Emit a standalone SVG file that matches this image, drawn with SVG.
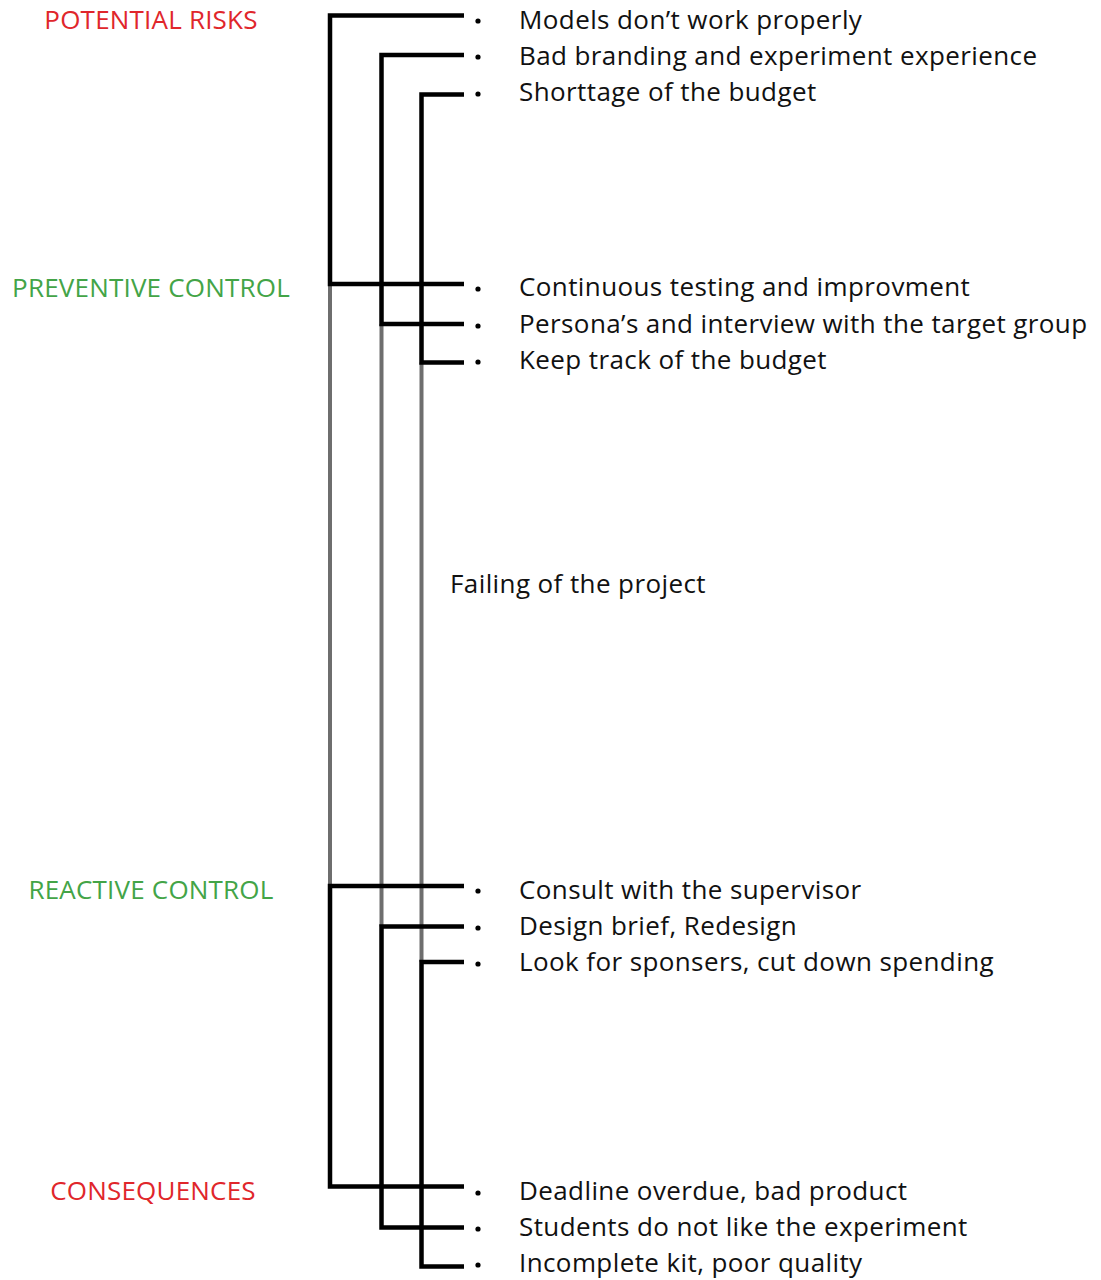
<svg xmlns="http://www.w3.org/2000/svg" width="1101" height="1280" viewBox="0 0 1101 1280">
<style>
.t{font-family:"Open Sans","Noto Sans",sans-serif;font-size:26px;letter-spacing:0.4px;fill:#111}
.h{font-family:"Open Sans","Noto Sans",sans-serif;font-size:26px;letter-spacing:0.2px;text-anchor:middle}
.red{fill:#e0262b}
.green{fill:#43a447}
.b{fill:none;stroke:#000;stroke-width:4.5}
.g{fill:none;stroke:#6e6e6e;stroke-width:4}
.d{fill:#000}
</style>
<rect width="1101" height="1280" fill="#fff"/>
<g id="connectors">
<line class="g" x1="330" y1="284" x2="330" y2="886"/>
<line class="g" x1="381.5" y1="324" x2="381.5" y2="926.5"/>
<line class="g" x1="421.5" y1="362.5" x2="421.5" y2="962"/>
<polyline class="b" points="464,15.5 330,15.5 330,284 464,284"/>
<polyline class="b" points="464,55 381.5,55 381.5,324 464,324"/>
<polyline class="b" points="464,94.5 421.5,94.5 421.5,362.5 464,362.5"/>
<polyline class="b" points="464,886 330,886 330,1186.5 464,1186.5"/>
<polyline class="b" points="464,926.5 381.5,926.5 381.5,1227.5 464,1227.5"/>
<polyline class="b" points="464,962 421.5,962 421.5,1266.5 464,1266.5"/>
</g>
<g id="labels">
<text class="h red" x="151" y="29">POTENTIAL RISKS</text>
<text class="h green" x="151" y="297">PREVENTIVE CONTROL</text>
<text class="h green" x="151" y="899">REACTIVE CONTROL</text>
<text class="h red" x="153" y="1200">CONSEQUENCES</text>
</g>
<g id="risks">
<circle class="d" cx="478" cy="21" r="2.6"/><text class="t" x="519" y="29">Models don’t work properly</text>
<circle class="d" cx="478" cy="57" r="2.6"/><text class="t" x="519" y="65">Bad branding and experiment experience</text>
<circle class="d" cx="478" cy="94" r="2.6"/><text class="t" x="519" y="101">Shorttage of the budget</text>
</g>
<g id="preventive">
<circle class="d" cx="478" cy="289" r="2.6"/><text class="t" x="519" y="296">Continuous testing and improvment</text>
<circle class="d" cx="478" cy="326" r="2.6"/><text class="t" x="519" y="333">Persona’s and interview with the target group</text>
<circle class="d" cx="478" cy="362" r="2.6"/><text class="t" x="519" y="369">Keep track of the budget</text>
</g>
<g id="center">
<text class="t" x="450" y="593">Failing of the project</text>
</g>
<g id="reactive">
<circle class="d" cx="478" cy="891" r="2.6"/><text class="t" x="519" y="899">Consult with the supervisor</text>
<circle class="d" cx="478" cy="928" r="2.6"/><text class="t" x="519" y="935">Design brief, Redesign</text>
<circle class="d" cx="478" cy="964" r="2.6"/><text class="t" x="519" y="971">Look for sponsers, cut down spending</text>
</g>
<g id="consequences">
<circle class="d" cx="478" cy="1193" r="2.6"/><text class="t" x="519" y="1200">Deadline overdue, bad product</text>
<circle class="d" cx="478" cy="1229" r="2.6"/><text class="t" x="519" y="1236">Students do not like the experiment</text>
<circle class="d" cx="478" cy="1265" r="2.6"/><text class="t" x="519" y="1272">Incomplete kit, poor quality</text>
</g>
</svg>
